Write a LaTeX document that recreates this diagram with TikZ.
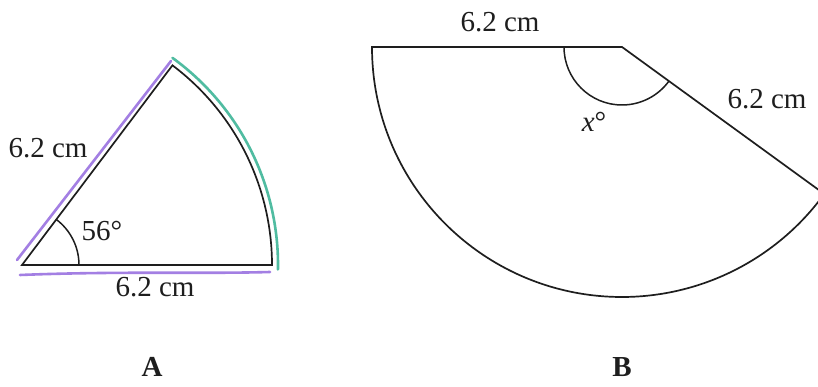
\documentclass[tikz,border=0pt]{standalone}
\usepackage{fontspec}
\setmainfont{Liberation Serif}
\usetikzlibrary{positioning,calc}
\definecolor{ink}{HTML}{1E1E1E}
\definecolor{violet}{HTML}{9A72E0}
\definecolor{teal}{HTML}{3DB597}
\tikzset{
  edge/.style={draw=ink, line width=1.7pt, line join=miter},
  anglemark/.style={draw=ink, line width=1.5pt},
  hilite/.style={line width=2.6pt, line cap=round, opacity=0.9},
  lab/.style={font=\fontsize{29pt}{32pt}\selectfont, text=ink, inner sep=0pt},
  tag/.style={font=\fontsize{29pt}{32pt}\selectfont\bfseries, text=ink, inner sep=0pt},
}
\begin{document}
\begin{tikzpicture}[x=1pt, y=1pt]
    \clip (0,0) rectangle (818,387);
    \fill[white] (0,0) rectangle (818,387);
    % sector A
    \coordinate (oa) at (22,122);
    \coordinate (ra) at ($(oa)+(0:250)$);
    \coordinate (ta) at ($(oa)+(53:250)$);
    \draw[violet, hilite] (17,127) -- (171,326);
    \draw[violet, hilite] (20,112) .. controls (120,116) and (200,113) .. (270,115);
    \draw[teal, hilite] ($(oa)+(54:256)$) arc[start angle=54, end angle=-1, radius=256];
    \draw[edge] (oa) -- (ra) arc[start angle=0, end angle=53, radius=250] -- cycle;
    \draw[anglemark] ($(oa)+(0:57)$) arc[start angle=0, end angle=53, radius=57];
    \node[lab] (aside) at (48,239) {6.2 cm};
    \node[lab] (abase) at (155,100) {6.2 cm};
    \node[lab] (aang) at (102,156) {56°};
    \node[tag] (atag) at (152,20) {A};
    % sector B
    \coordinate (ob) at (622,340);
    \coordinate (lb) at ($(ob)+(180:250)$);
    \coordinate (rb) at ($(ob)+(324:250)$);
    \draw[edge] (ob) -- (lb) arc[start angle=180, end angle=324, radius=250] -- cycle;
    \draw[anglemark] ($(ob)+(180:58)$) arc[start angle=180, end angle=324, radius=58];
    \node[lab] (btop) at (500,365) {6.2 cm};
    \node[lab] (bside) at (767,288) {6.2 cm};
    \node[lab] (bang) at (594,265) {\textit{x}°};
    \node[tag] (btag) at (622,20) {B};
\end{tikzpicture}
\end{document}
